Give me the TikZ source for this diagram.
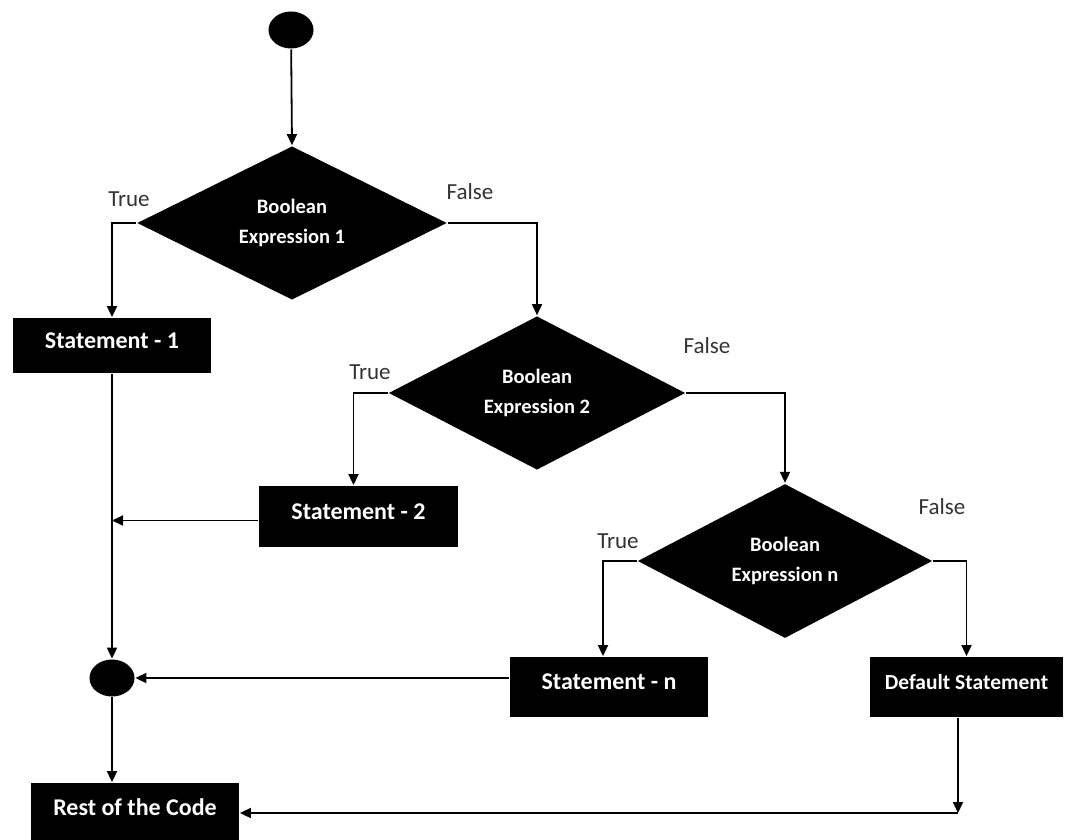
\documentclass[tikz,border=0pt]{standalone}
\usepackage{fontspec}
\setmainfont{Carlito}
\usetikzlibrary{shapes.geometric,arrows.meta}
\begin{document}
\begin{tikzpicture}[x=1pt,y=-1pt,
  line width=1.8pt,
  arr/.style={-{Triangle[length=11pt,width=10pt]}},
  dec/.style={diamond, fill=black, inner sep=0pt, text=white, align=center,
    font=\bfseries\fontsize{20.5}{30}\selectfont},
  stmt/.style={rectangle, fill=black, inner sep=0pt, text=white,
    text height=14pt, text depth=9pt,
    font=\bfseries\fontsize{24}{28}\selectfont},
  lbl/.style={font=\fontsize{23}{26}\selectfont, text=black!80},
  dot/.style={ellipse, fill=black, inner sep=0pt, minimum width=45pt, minimum height=37pt}]
\useasboundingbox (0,0) rectangle (1068,840);
% nodes
\node[dot] (start) at (291,30) {};
\node[dec, minimum width=310pt, minimum height=153pt] (d1) at (292,223) {Boolean\\Expression 1};
\node[dec, minimum width=297pt, minimum height=150pt] (d2) at (537,393) {Boolean\\Expression 2};
\node[dec, minimum width=295pt, minimum height=152pt] (dn) at (785,561) {Boolean\\Expression n};
\node[stmt, minimum width=198pt, minimum height=55pt] (s1) at (112,345.5) {Statement - 1};
\node[stmt, minimum width=199pt, minimum height=61pt] (s2) at (358.5,516.5) {Statement - 2};
\node[stmt, minimum width=198pt, minimum height=60pt] (sn) at (609,687) {Statement - n};
\node[stmt, minimum width=193pt, minimum height=60pt, font=\bfseries\fontsize{21.5}{24}\selectfont] (def) at (966.5,687) {Default Statement};
\node[dot] (m) at (112,678) {};
\node[stmt, minimum width=208pt, minimum height=60pt] (rest) at (135,813) {Rest of the Code};
\coordinate (c) at (958,813);
% labels
\node[lbl] (t1) at (129,199) {True};
\node[lbl] (f1) at (470,192) {False};
\node[lbl] (t2) at (370,372) {True};
\node[lbl] (f2) at (707,346) {False};
\node[lbl] (t3) at (618,541) {True};
\node[lbl] (f3) at (942,507) {False};
% connectors
\draw[arr] (start) -- (d1.north);
\draw[arr] (d1.west) -| (s1.north);
\draw[arr] (d1.east) -| (d2.north);
\draw[arr] (d2.west) -| ([xshift=-5pt]s2.north);
\draw[arr] (d2.east) -| (dn.north);
\draw[arr] (dn.west) -| ([xshift=-6pt]sn.north);
\draw[arr] (dn.east) -| (def.north);
\draw[arr] (s1.south) -- (m.north);
\draw[arr] ([yshift=-4pt]s2.west) -- ([yshift=-4pt]s2.west -| s1.south);
\draw[arr] (sn.west |- m.east) -- (m.east);
\draw[arr] (m.south) -- (m.south |- rest.north);
\draw[arr] (def.south -| c) -- (c);
\draw[arr] (c) -- (c -| rest.east);
\end{tikzpicture}
\end{document}
